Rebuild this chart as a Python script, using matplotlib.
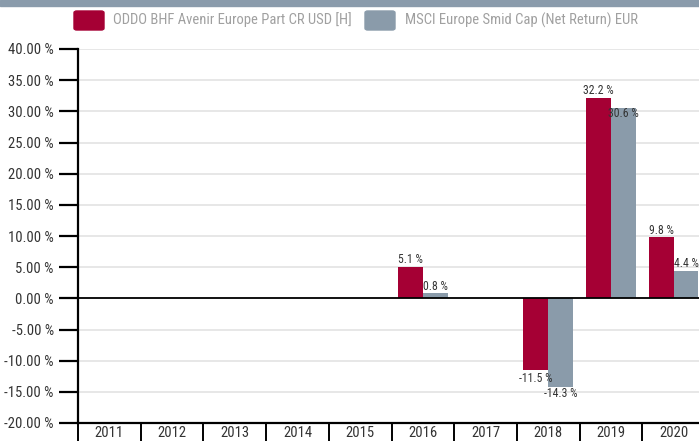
import numpy as np
import matplotlib.pyplot as plt
from matplotlib.patches import FancyBboxPatch, Rectangle

plt.rcParams['font.family'] = ['Roboto Condensed', 'Liberation Sans', 'DejaVu Sans']

years = ['2011', '2012', '2013', '2014', '2015', '2016', '2017', '2018', '2019', '2020']
fund = [np.nan, np.nan, np.nan, np.nan, np.nan, 5.1, np.nan, -11.5, 32.2, 9.8]
bench = [np.nan, np.nan, np.nan, np.nan, np.nan, 0.8, np.nan, -14.3, 30.6, 4.4]
fund_name = 'ODDO BHF Avenir Europe Part CR USD [H]'
bench_name = 'MSCI Europe Smid Cap (Net Return) EUR'

red = '#a50034'
grey = '#8a9baa'
txt = '#333333'

W, H = 699, 441
fig = plt.figure(figsize=(W / 100, H / 100), dpi=100)

# grey band along the top
fig.patches.append(Rectangle((0, 1 - 6 / H), 1, 6 / H, transform=fig.transFigure,
                             color='#8a9bab', zorder=0))

ax = fig.add_axes([78 / W, (H - 423) / H, 627 / W, 374 / H])
x = np.arange(len(years))
bw = 0.395
ax.bar(x - bw / 2, fund, bw, color=red, zorder=3)
ax.bar(x + bw / 2, bench, bw, color=grey, zorder=3)

ax.set_xlim(-0.5, len(years) - 0.5)
ax.set_ylim(-20, 40)
ax.set_yticks(np.arange(-20, 41, 5))
ax.set_yticklabels([f'{v:.2f} %' for v in np.arange(-20, 41, 5)], fontsize=10.5, color=txt)
ax.tick_params(axis='y', length=14, width=1.6, pad=3.5)
ax.grid(axis='y', color='#e3e3e3', linewidth=1.2, zorder=0)
ax.axhline(0, color='black', linewidth=1.3, zorder=4)

# category boxes below the axis
ax.set_xticks(np.arange(-0.5, len(years), 1))
ax.set_xticklabels([])
ax.set_xticks(x, minor=True)
ax.set_xticklabels(years, minor=True, fontsize=10.5, color=txt)
ax.tick_params(axis='x', which='major', length=14, width=1.4, direction='out')
ax.tick_params(axis='x', which='minor', length=0, pad=2.5)

for s in ['top', 'right']:
    ax.spines[s].set_visible(False)
ax.spines['left'].set_linewidth(1.6)
ax.spines['bottom'].set_linewidth(1.6)

# value labels
def label(xp, v, dy):
    ax.annotate(f'{v} %', (xp, v), xytext=(0, dy), textcoords='offset points',
                ha='center', va='center', fontsize=8.5, color=txt, zorder=5)

for i in range(len(years)):
    if not np.isnan(fund[i]):
        label(x[i] - bw / 2, fund[i], 5 if fund[i] > 0 else -6)
    if not np.isnan(bench[i]):
        dy = 5 if bench[i] > 0 else -6
        if not np.isnan(fund[i]) and fund[i] > bench[i] and fund[i] - bench[i] < 3:
            dy = -4
        label(x[i] + bw / 2, bench[i], dy)

# legend
for x0, col in [(74, red), (365, grey)]:
    fig.patches.append(FancyBboxPatch((x0 / W, 1 - 30 / H), 30 / W, 19 / H,
                                      boxstyle='round,pad=0,rounding_size=0.004',
                                      transform=fig.transFigure, color=col))
fig.text(113 / W, 1 - 20 / H, fund_name, fontsize=10.5, color='#a0a0a0', va='center')
fig.text(405 / W, 1 - 20 / H, bench_name, fontsize=10.5, color='#a0a0a0', va='center')

fig.savefig('out.png', dpi=100)
